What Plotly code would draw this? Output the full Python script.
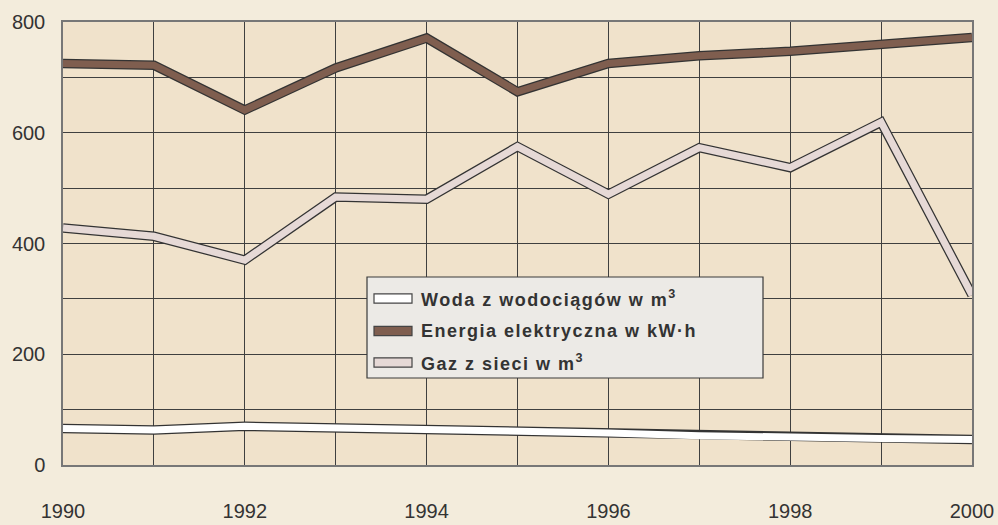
import plotly.graph_objects as go

# Annual consumption per capita, 1990-2000
years = list(range(1990, 2001))
woda = [66, 63, 70, 67, 66, 62, 58, 53, 52, 48, 46]
energia = [725, 722, 641, 717, 771, 674, 725, 739, 747, 759, 772]
gaz = [428, 413, 370, 484, 480, 575, 489, 573, 537, 619, 307]

series_names = [
    "Woda z wodociągów w m<sup>3</sup>",
    "Energia elektryczna w kW·h",
    "Gaz z sieci w m<sup>3</sup>",
]
series_values = [woda, energia, gaz]
series_colors = ["#FFFFFF", "#7F5E4F", "#E6D9D6"]

y_tick_vals = [0, 200, 400, 600, 800]
x_tick_vals = [1990, 1992, 1994, 1996, 1998, 2000]

OUTLINE = "#333333"
GRID = "#3f3f3f"
FONT = "Liberation Sans, Arial, sans-serif"

fig = go.Figure()

# each series is a thick band: a dark wide stroke under a narrower coloured one
for name, vals, col in zip(series_names, series_values, series_colors):
    fig.add_trace(go.Scatter(x=years, y=vals, mode="lines",
                             line=dict(color=OUTLINE, width=9.5),
                             hoverinfo="skip", showlegend=False))
    fig.add_trace(go.Scatter(x=years, y=vals, mode="lines", name=name,
                             line=dict(color=col, width=7),
                             showlegend=False))

# hand-built legend box
L, R, T, B = 63, 972, 22, 465
def px_x(p):
    return (p - L) / (R - L)
def px_y(p):
    return (B - p) / (B - T)

shapes = [dict(type="rect", xref="paper", yref="paper",
               x0=px_x(367), x1=px_x(763), y0=px_y(378), y1=px_y(277),
               fillcolor="#ECEAE6", line=dict(color="#3a3a3a", width=1.2),
               layer="above")]
annotations = []
row_y = [298.5, 331, 362.5]
for name, col, cy in zip(series_names, series_colors, row_y):
    shapes.append(dict(type="rect", xref="paper", yref="paper",
                       x0=px_x(374), x1=px_x(412), y0=px_y(cy + 4.7), y1=px_y(cy - 4.7),
                       fillcolor=col, line=dict(color="#444444", width=1.2),
                       layer="above"))
    annotations.append(dict(xref="paper", yref="paper", x=px_x(419), y=px_y(cy),
                            xanchor="left", yanchor="middle", showarrow=False,
                            text='<span style="letter-spacing:1.5px"><b>' + name + "</b></span>",
                            font=dict(family=FONT, size=18, color="#333333")))

fig.update_layout(
    width=998, height=525,
    margin=dict(l=L, r=998 - R, t=T, b=525 - B),
    paper_bgcolor="#F3ECDC",
    plot_bgcolor="#F0E2CB",
    font=dict(family=FONT, size=20, color="#333333"),
    shapes=shapes,
    annotations=annotations,
    showlegend=False,
)

fig.update_xaxes(
    range=[1990, 2000], tickvals=x_tick_vals, ticks="",
    showgrid=True, gridcolor=GRID, gridwidth=1.3,
    minor=dict(dtick=1, showgrid=True, gridcolor=GRID, gridwidth=1.3),
    showline=True, linecolor="#777777", linewidth=1.5, mirror=True,
    zeroline=False, ticklabelstandoff=27, automargin=False,
    tickfont=dict(family=FONT, size=20, color="#333333"),
)
fig.update_yaxes(
    range=[0, 800], tickvals=y_tick_vals, ticks="",
    showgrid=True, gridcolor=GRID, gridwidth=1.3,
    minor=dict(dtick=100, showgrid=True, gridcolor=GRID, gridwidth=1.3),
    showline=True, linecolor="#777777", linewidth=1.5, mirror=True,
    zeroline=False, ticklabelstandoff=12, automargin=False,
    tickfont=dict(family=FONT, size=20, color="#333333"),
)

fig.write_html("out.html")
